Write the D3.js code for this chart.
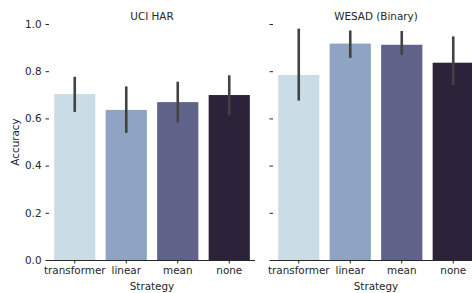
<!DOCTYPE html>
<html>
<head>
<meta charset="utf-8">
<script src="https://cdn.jsdelivr.net/npm/d3@7"></script>
<style>
  body { margin: 0; background: #fff; }
  text { font-family: "DejaVu Sans", sans-serif; fill: #262626; }
</style>
</head>
<body>
<svg id="chart" width="472" height="293"></svg>
<script>
const strategies = ['transformer', 'linear', 'mean', 'none']
const colors = ['#cadde6', '#8ea4c2', '#5f6389', '#2c233a']
const panels = ['UCI HAR', 'WESAD (Binary)']

// mean accuracy and CI per panel, same order as strategies
const harMean = [0.703, 0.636, 0.669, 0.699]
const harLow = [0.633, 0.544, 0.589, 0.619]
const harHigh = [0.771, 0.730, 0.750, 0.777]
const wesadMean = [0.784, 0.917, 0.912, 0.836]
const wesadLow = [0.681, 0.862, 0.874, 0.747]
const wesadHigh = [0.975, 0.967, 0.965, 0.942]

const yTicks = [0, 0.2, 0.4, 0.6, 0.8, 1.0]

window.addEventListener('load', makeChart)
function makeChart() {
  const svg = d3.select('#chart')
  const fs = '10.4px'

  const scY = d3.scaleLinear().domain([0, 1]).range([260, 24])

  const series = [
    { mean: harMean, low: harLow, high: harHigh, x0: 49, x1: 255 },
    { mean: wesadMean, low: wesadLow, high: wesadHigh, x0: 273, x1: 479 },
  ]

  series.forEach(function (s, p) {
    const scX = d3
      .scaleBand()
      .domain(strategies)
      .range([s.x0, s.x1])
      .paddingInner(0.2)
      .paddingOuter(0.1)

    const g = svg.append('g')

    g.selectAll('rect')
      .data(strategies)
      .enter()
      .append('rect')
      .attr('x', (d) => scX(d))
      .attr('width', scX.bandwidth())
      .attr('y', (d, i) => scY(s.mean[i]))
      .attr('height', (d, i) => scY(0) - scY(s.mean[i]))
      .attr('fill', (d, i) => colors[i])

    g.selectAll('line.err')
      .data(strategies)
      .enter()
      .append('line')
      .attr('class', 'err')
      .attr('x1', (d) => scX(d) + scX.bandwidth() / 2)
      .attr('x2', (d) => scX(d) + scX.bandwidth() / 2)
      .attr('y1', (d, i) => scY(s.low[i]) + 1.3)
      .attr('y2', (d, i) => scY(s.high[i]) - 1.3)
      .attr('stroke', '#424242')
      .attr('stroke-width', 2.6)

    // x axis (spine kept, left spine removed)
    const xAxis = d3.axisBottom(scX).tickSize(3.5).tickPadding(3)
    const xa = g.append('g').attr('transform', 'translate(0,' + scY(0) + ')').call(xAxis)
    xa.select('.domain').attr('d', 'M' + s.x0 + ',0.5H' + s.x1).attr('stroke', '#262626').attr('stroke-width', 1.1)
    xa.selectAll('.tick line').attr('stroke', '#262626').attr('stroke-width', 1)
    xa.selectAll('.tick text').attr('font-size', fs).attr('fill', '#262626').attr('font-family', 'DejaVu Sans')

    const yAxis = d3
      .axisLeft(scY)
      .tickValues(yTicks)
      .tickSize(3.5)
      .tickPadding(4)
      .tickFormat(p === 0 ? d3.format('.1f') : '')
    const ya = g.append('g').attr('transform', 'translate(' + s.x0 + ',0)').call(yAxis)
    ya.select('.domain').remove()
    ya.selectAll('.tick line').attr('stroke', '#262626').attr('stroke-width', 1)
    ya.selectAll('.tick text').attr('font-size', fs).attr('fill', '#262626').attr('font-family', 'DejaVu Sans')

    g.append('text')
      .attr('x', (s.x0 + s.x1) / 2)
      .attr('y', 19.5)
      .attr('text-anchor', 'middle')
      .attr('font-size', fs)
      .text(panels[p])

    g.append('text')
      .attr('x', (s.x0 + s.x1) / 2)
      .attr('y', 290)
      .attr('text-anchor', 'middle')
      .attr('font-size', fs)
      .text('Strategy')
  })

  svg
    .append('text')
    .attr('transform', 'translate(19,' + (scY(0) + scY(1)) / 2 + ') rotate(-90)')
    .attr('text-anchor', 'middle')
    .attr('font-size', fs)
    .text('Accuracy')
}
</script>
</body>
</html>
